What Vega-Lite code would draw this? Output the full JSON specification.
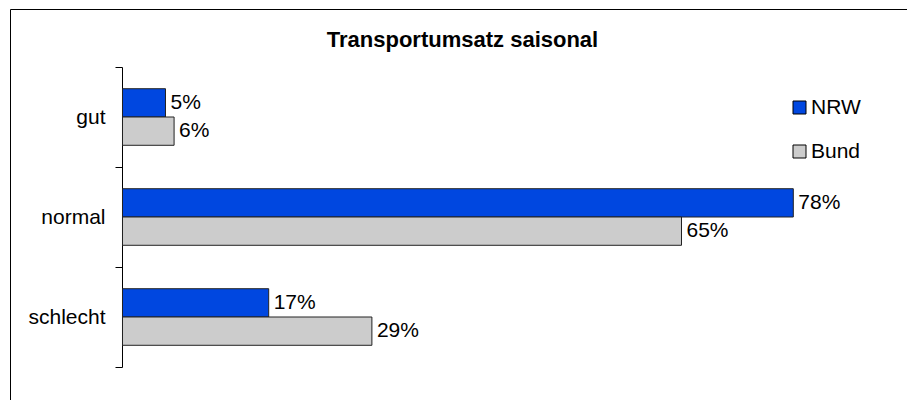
{
  "$schema": "https://vega.github.io/schema/vega-lite/v6.json",
  "width": 897,
  "height": 391,
  "autosize": {"type": "none"},
  "padding": {"left": 10, "top": 9, "right": 0, "bottom": 0},
  "background": "white",
  "config": {"view": {"stroke": null}, "font": "Liberation Sans"},
  "data": {
    "values": [
      {"category": "gut", "series": "NRW", "value": 0.05},
      {"category": "gut", "series": "Bund", "value": 0.06},
      {"category": "normal", "series": "NRW", "value": 0.78},
      {"category": "normal", "series": "Bund", "value": 0.65},
      {"category": "schlecht", "series": "NRW", "value": 0.17},
      {"category": "schlecht", "series": "Bund", "value": 0.29}
    ]
  },
  "resolve": {"scale": {"y": "independent"}, "axis": {"y": "independent"}},
  "layer": [
    {
      "encoding": {
        "y": {
          "field": "category",
          "type": "nominal",
          "sort": ["gut", "normal", "schlecht"],
          "scale": {"range": [58, 358], "paddingInner": 0, "paddingOuter": 0},
          "axis": {
            "title": null,
            "orient": "left",
            "offset": -112,
            "tickBand": "extent",
            "domainColor": "black",
            "tickColor": "black",
            "tickSize": 7,
            "labelFontSize": 21,
            "labelColor": "black",
            "labelFont": "Liberation Sans",
            "labelPadding": 10
          }
        },
        "yOffset": {
          "field": "series",
          "sort": ["NRW", "Bund"],
          "scale": {"paddingInner": 0, "paddingOuter": 0.767}
        },
        "x": {
          "field": "value",
          "type": "quantitative",
          "scale": {"domain": [-0.1308, 0.9122], "nice": false, "zero": false},
          "axis": {
            "orient": "top",
            "title": "Transportumsatz saisonal",
            "titleFont": "Liberation Sans",
            "titleFontSize": 22,
            "titleFontWeight": "bold",
            "titleColor": "black",
            "titleAnchor": "start",
            "titleAlign": "center",
            "titleBaseline": "alphabetic",
            "titleX": 452,
            "titleY": 37,
            "domain": true,
            "domainColor": "black",
            "ticks": false,
            "labels": false,
            "grid": false
          }
        }
      },
      "layer": [
        {
          "mark": {"type": "bar", "stroke": "#222222", "strokeWidth": 1},
          "encoding": {
            "color": {
              "field": "series",
              "type": "nominal",
              "scale": {"domain": ["NRW", "Bund"], "range": ["#0047E0", "#CCCCCC"]},
              "legend": {
                "title": null,
                "orient": "none",
                "legendX": 779,
                "legendY": 88,
                "padding": 0,
                "symbolType": "square",
                "symbolSize": 169,
                "symbolStrokeColor": "black",
                "symbolStrokeWidth": 1,
                "symbolOpacity": 1,
                "labelFontSize": 21,
                "labelFont": "Liberation Sans",
                "labelColor": "black",
                "labelOffset": 1,
                "rowPadding": 22
              }
            }
          }
        },
        {
          "mark": {"type": "text", "align": "left", "baseline": "middle", "dx": 5, "fontSize": 21, "font": "Liberation Sans", "color": "black"},
          "encoding": {
            "text": {"field": "value", "type": "quantitative", "format": ".0%"}
          }
        }
      ]
    },
    {
      "mark": {"type": "point", "opacity": 0},
      "encoding": {
        "x": {"field": "value", "type": "quantitative"},
        "y": {
          "field": "category",
          "type": "nominal",
          "scale": {"paddingOuter": 0, "paddingInner": 0},
          "axis": {
            "orient": "left",
            "offset": 0,
            "title": null,
            "domain": true,
            "domainColor": "black",
            "ticks": false,
            "labels": false,
            "grid": false
          }
        }
      }
    }
  ]
}
